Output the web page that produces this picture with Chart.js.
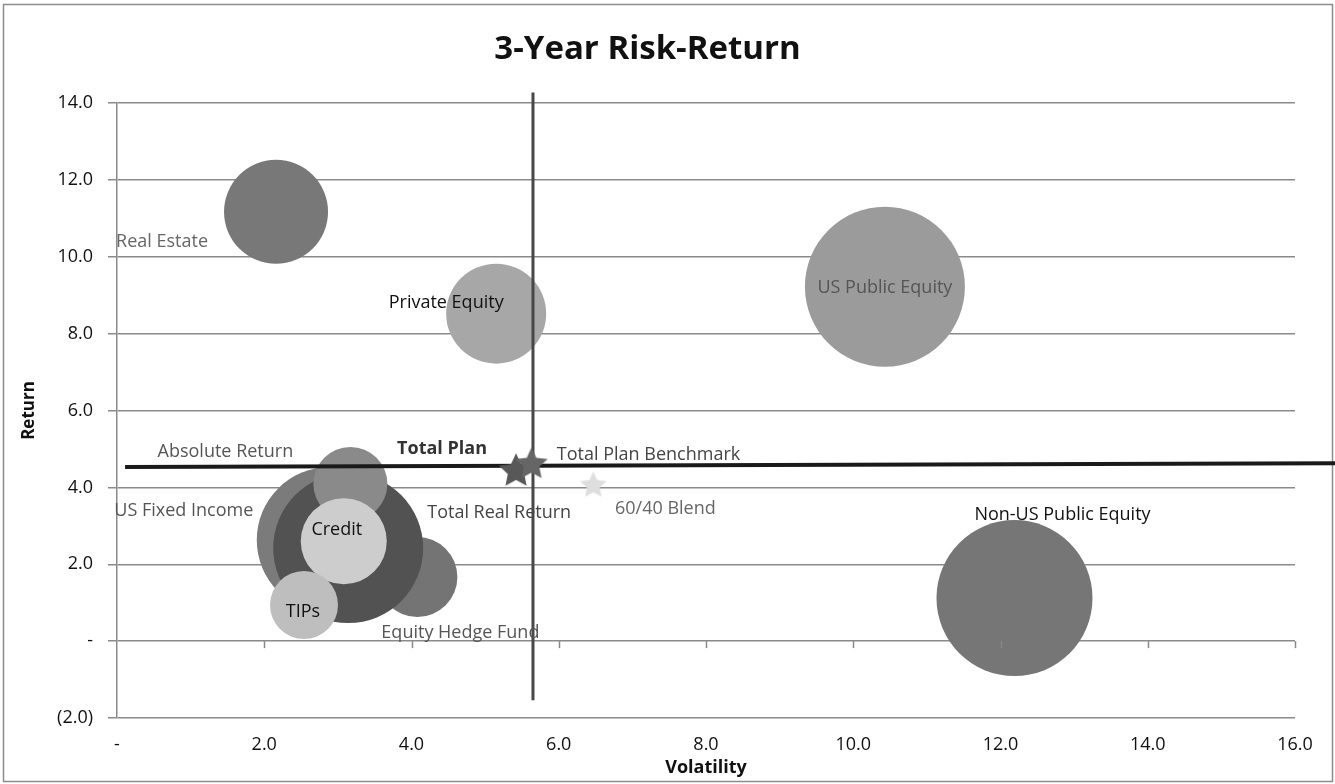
<!DOCTYPE html>
<html>
<head>
<meta charset="utf-8">
<script src="https://cdn.jsdelivr.net/npm/chart.js@4.4.1/dist/chart.umd.min.js"></script>
<style>
  html, body { margin: 0; padding: 0; background: #ffffff; }
  #wrap { width: 1335px; height: 784px; position: relative; }
</style>
</head>
<body>
<div id="wrap"><canvas id="c" width="1335" height="784"></canvas></div>
<script>
// ---------- DATA ----------
const assetNames = ['US Fixed Income', 'Equity Hedge Fund', 'Total Real Return', 'Absolute Return', 'Credit', 'TIPs',
                    'Real Estate', 'Private Equity', 'US Public Equity', 'Non-US Public Equity'];
const assetVolatility = [2.89, 4.08, 3.14, 3.17, 3.08, 2.54, 2.16, 5.15, 10.43, 12.19];
const assetReturn     = [2.63, 1.67, 2.42, 4.09, 2.60, 0.94, 11.17, 8.52, 9.22, 1.12];
const assetSize       = [73, 40, 75, 37, 43, 34, 52, 50, 80, 78];   // bubble radius

const starNames = ['Total Plan', 'Total Plan Benchmark', '60/40 Blend'];
const starVolatility = [5.42, 5.63, 6.47];
const starReturn     = [4.42, 4.60, 4.05];

const planVolLineX = [5.65, 5.65];
const planVolLineY = [14.27, -1.54];
const planRetLineX = [0.11, 16.55];
const planRetLineY = [4.53, 4.63];

const xTicks = [0, 2, 4, 6, 8, 10, 12, 14, 16];
const yTicks = [-2, 0, 2, 4, 6, 8, 10, 12, 14];

// ---------- STYLES ----------
const FONT = '"Open Sans", Lato, sans-serif';
const assetColors = ['#7b7b7b', '#747474', '#525252', '#8a8a8a', '#cdcdcd', '#bebebe',
                     '#787878', '#a7a7a7', '#9b9b9b', '#767676'];
const assetLabelStyle = [
  { dx: -146, dy: -29, color: '#555555', bold: false },
  { dx: 43,   dy: 56,  color: '#555555', bold: false },
  { dx: 151,  dy: -35, color: '#444444', bold: false },
  { dx: -125, dy: -32, color: '#555555', bold: false },
  { dx: -7,   dy: -11, color: '#111111', bold: false },
  { dx: -1,   dy: 7,   color: '#111111', bold: false },
  { dx: -114, dy: 30,  color: '#666666', bold: false },
  { dx: -50,  dy: -11, color: '#111111', bold: false },
  { dx: 0,    dy: 1,   color: '#555555', bold: false },
  { dx: 48,   dy: -83, color: '#111111', bold: false }
];
const starColors = ['#585858', '#666666', '#dedede'];
const starRadius = [18, 17, 14];
const starLabelStyle = [
  { dx: -74, dy: -22, color: '#333333', bold: true },
  { dx: 117, dy: -9,  color: '#444444', bold: false },
  { dx: 72,  dy: 23,  color: '#666666', bold: false }
];

function makeStar(r, color) {
  const c = document.createElement('canvas');
  c.width = c.height = r * 2 + 2;
  const g = c.getContext('2d');
  const cx = r + 1, cy = r + 1, inner = r * 0.48;
  g.beginPath();
  for (let i = 0; i < 10; i++) {
    const rad = i % 2 === 0 ? r : inner;
    const a = -Math.PI / 2 + i * Math.PI / 5;
    const px = cx + rad * Math.cos(a), py = cy + rad * Math.sin(a);
    if (i === 0) g.moveTo(px, py); else g.lineTo(px, py);
  }
  g.closePath();
  g.fillStyle = color;
  g.fill();
  return c;
}

function fmt(v) {
  if (Math.abs(v) < 1e-9) return '-';
  if (v < 0) return '(' + Math.abs(v).toFixed(1) + ')';
  return v.toFixed(1);
}

// ---------- DATASETS ----------
const datasets = [];
assetNames.forEach((n, i) => {
  datasets.push({
    type: 'bubble',
    label: n,
    data: [{ x: assetVolatility[i], y: assetReturn[i], r: assetSize[i] }],
    backgroundColor: assetColors[i],
    borderWidth: 0,
    order: 100 - i,
    labelStyle: assetLabelStyle[i]
  });
});
datasets.push({
  type: 'line', label: 'vline',
  data: planVolLineX.map((x, i) => ({ x, y: planVolLineY[i] })),
  borderColor: '#484848', borderWidth: 3, pointRadius: 0, fill: false, clip: false, order: 20
});
datasets.push({
  type: 'line', label: 'hline',
  data: planRetLineX.map((x, i) => ({ x, y: planRetLineY[i] })),
  borderColor: '#1a1a1a', borderWidth: 4, pointRadius: 0, fill: false, clip: false, order: 19
});
starNames.forEach((n, i) => {
  datasets.push({
    type: 'scatter',
    label: n,
    data: [{ x: starVolatility[i], y: starReturn[i] }],
    pointStyle: makeStar(starRadius[i], starColors[i]),
    pointRadius: starRadius[i],
    order: 10 - i,
    labelStyle: starLabelStyle[i]
  });
});

// ---------- PLUGINS ----------
const framePlugin = {
  id: 'frame',
  beforeDraw(chart) {
    const ctx = chart.ctx;
    ctx.save();
    ctx.fillStyle = '#ffffff';
    ctx.fillRect(0, 0, chart.width, chart.height);
    ctx.strokeStyle = '#8c8c8c';
    ctx.lineWidth = 1.5;
    ctx.strokeRect(3.5, 4.5, chart.width - 6, chart.height - 7);
    ctx.restore();
  },
  afterDraw(chart) {
    const ctx = chart.ctx, xs = chart.scales.x, ys = chart.scales.y;
    const y0 = ys.getPixelForValue(0);
    ctx.save();
    ctx.strokeStyle = '#888888';
    ctx.lineWidth = 1.5;
    xTicks.forEach(t => {
      if (t === 0) return;
      const px = Math.round(xs.getPixelForValue(t)) + 0.5;
      ctx.beginPath(); ctx.moveTo(px, y0); ctx.lineTo(px, y0 + 7); ctx.stroke();
    });
    ctx.restore();
  }
};

const labelPlugin = {
  id: 'pointLabels',
  afterDatasetsDraw(chart) {
    const ctx = chart.ctx;
    ctx.save();
    ctx.textAlign = 'center';
    ctx.textBaseline = 'middle';
    chart.data.datasets.forEach((ds, di) => {
      if (!ds.labelStyle) return;
      const el = chart.getDatasetMeta(di).data[0];
      if (!el) return;
      const s = ds.labelStyle;
      ctx.font = (s.bold ? 'bold ' : '') + '18px ' + FONT;
      ctx.fillStyle = s.color;
      ctx.fillText(ds.label, el.x + s.dx, el.y + s.dy);
    });
    ctx.restore();
  }
};

// ---------- CHART ----------
new Chart(document.getElementById('c'), {
  data: { datasets },
  options: {
    responsive: false,
    animation: false,
    events: [],
    layout: { autoPadding: false, padding: { left: 0, right: 40, top: 0, bottom: 0 } },
    plugins: {
      legend: { display: false },
      tooltip: { enabled: false },
      title: {
        display: true,
        text: '3-Year Risk-Return',
        color: '#111111',
        font: { family: FONT, size: 33, weight: 'bold' },
        padding: { top: 30, bottom: 33.4 }
      }
    },
    scales: {
      x: {
        type: 'linear',
        min: 0, max: 16,
        afterBuildTicks: s => { s.ticks = xTicks.map(v => ({ value: v })); },
        afterFit: s => { s.height = 66; },
        grid: { display: false, drawTicks: false },
        border: { display: false },
        ticks: { padding: 16, color: '#111111', font: { family: FONT, size: 18 }, callback: v => fmt(v), maxRotation: 0 },
        title: { display: true, text: 'Volatility', color: '#111111', font: { family: FONT, size: 18, weight: 'bold' }, padding: { top: 0, bottom: 5 } }
      },
      y: {
        type: 'linear',
        min: -2, max: 14,
        afterBuildTicks: s => { s.ticks = yTicks.map(v => ({ value: v })); },
        afterFit: s => { s.width = 117; },
        grid: { color: '#8a8a8a', lineWidth: 1.5, drawTicks: true, tickLength: 9, tickColor: '#8a8a8a' },
        border: { display: true, color: '#8a8a8a', width: 1.5 },
        ticks: { padding: 15, color: '#111111', font: { family: FONT, size: 18 }, callback: v => fmt(v) },
        title: { display: true, text: 'Return', color: '#111111', font: { family: FONT, size: 17, weight: 'bold' }, padding: { top: 19, bottom: 0 } }
      }
    }
  },
  plugins: [framePlugin, labelPlugin]
});
</script>
</body>
</html>
